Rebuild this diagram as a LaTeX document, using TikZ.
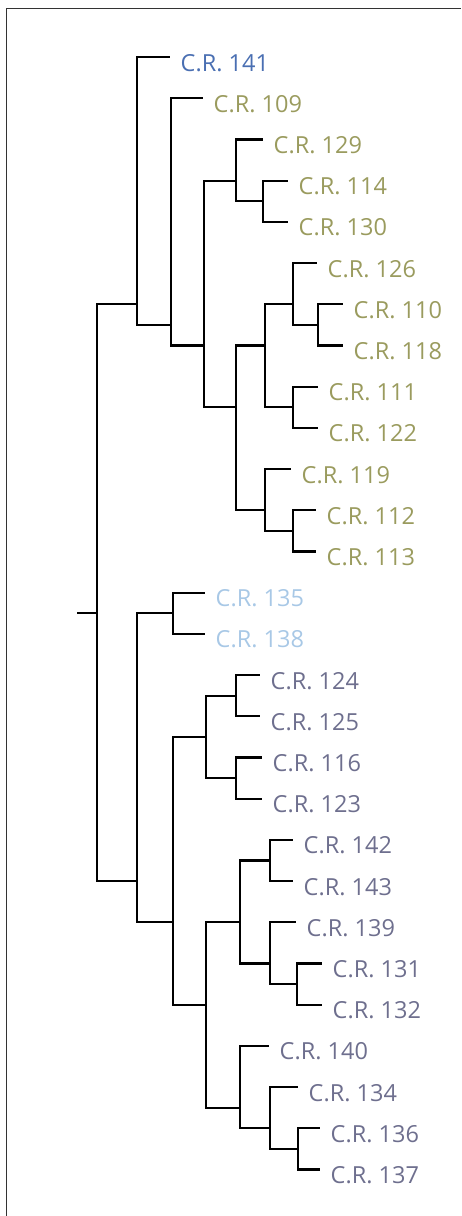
\documentclass[tikz,border=0pt]{standalone}
\usepackage{fontspec}
\setmainfont{Open Sans}
\definecolor{cblue}{HTML}{4A6FB2}
\definecolor{colive}{HTML}{9A9B5E}
\definecolor{clight}{HTML}{A8C8E6}
\definecolor{cslate}{HTML}{6E6F8E}
\begin{document}
\begin{tikzpicture}[x=1pt,y=-1pt,
  branch/.style={line width=2.2pt,black},
  frame/.style={line width=1.8pt,draw=black!80},
  leaf/.style={anchor=base west,inner sep=0pt,font=\fontsize{23.5}{26}\selectfont}]
\useasboundingbox (0,0) rectangle (461,1216);
\draw[frame] (6.5,1216) -- (6.5,8.5) -- (461,8.5);

% leaf row positions: y = 57 + 41.2 i
\def\ly#1{57+41.2*#1}

% leaf tips and their labels
\foreach \nm/\i/\x/\c in {141/0/170/cblue,109/1/203/colive,129/2/263/colive,114/3/288/colive,
  130/4/288/colive,126/5/317/colive,110/6/343/colive,118/7/343/colive,111/8/318/colive,
  122/9/318/colive,119/10/291/colive,112/11/316/colive,113/12/316/colive,135/13/205/clight,
  138/14/205/clight,124/15/260/cslate,125/16/260/cslate,116/17/262/cslate,123/18/262/cslate,
  142/19/293/cslate,143/20/293/cslate,139/21/296/cslate,131/22/322/cslate,132/23/322/cslate,
  140/24/269/cslate,134/25/298/cslate,136/26/320/cslate,137/27/320/cslate}
  {\coordinate (t\nm) at (\x,{\ly{\i}});
   \node[leaf,text=\c] (l\nm) at ([xshift=10.5pt,yshift=-14pt]t\nm) {C.R. \nm};}

% internal nodes (y = mean of leaf rows below them)
\coordinate (stub) at (77,{\ly{13.5}});
\coordinate (root) at (97,{\ly{13.5}});
\coordinate (nA) at (137,{\ly{6}});
\coordinate (nB) at (171,{\ly{6.5}});
\coordinate (nC) at (204,{\ly{7}});
\coordinate (nD) at (236,{\ly{3}});
\coordinate (nF) at (263,{\ly{3.5}});
\coordinate (nE) at (236,{\ly{8.5}});
\coordinate (nG) at (265,{\ly{7}});
\coordinate (nI) at (293,{\ly{6}});
\coordinate (nK) at (318,{\ly{6.5}});
\coordinate (nJ) at (293,{\ly{8.5}});
\coordinate (nH) at (265,{\ly{11}});
\coordinate (nL) at (293,{\ly{11.5}});
\coordinate (nP) at (137,{\ly{20}});
\coordinate (nQ) at (173,{\ly{13.5}});
\coordinate (nR) at (173,{\ly{21}});
\coordinate (nS) at (206,{\ly{16.5}});
\coordinate (nU) at (236,{\ly{15.5}});
\coordinate (nV) at (236,{\ly{17.5}});
\coordinate (nT) at (206,{\ly{23}});
\coordinate (nW) at (240,{\ly{21}});
\coordinate (nY) at (270,{\ly{19.5}});
\coordinate (nZ) at (270,{\ly{22}});
\coordinate (nAA) at (297,{\ly{22.5}});
\coordinate (nX) at (240,{\ly{25.5}});
\coordinate (nAB) at (270,{\ly{26}});
\coordinate (nAC) at (298,{\ly{26.5}});

% branches
\draw[branch] (stub) -- (root);
\foreach \p/\ch in {root/nA,root/nP,
  nA/t141,nA/nB,nB/t109,nB/nC,nC/nD,nC/nE,
  nD/t129,nD/nF,nF/t114,nF/t130,
  nE/nG,nE/nH,nG/nI,nG/nJ,nI/t126,nI/nK,nK/t110,nK/t118,
  nJ/t111,nJ/t122,nH/t119,nH/nL,nL/t112,nL/t113,
  nP/nQ,nP/nR,nQ/t135,nQ/t138,nR/nS,nR/nT,
  nS/nU,nS/nV,nU/t124,nU/t125,nV/t116,nV/t123,
  nT/nW,nT/nX,nW/nY,nW/nZ,nY/t142,nY/t143,
  nZ/t139,nZ/nAA,nAA/t131,nAA/t132,
  nX/t140,nX/nAB,nAB/t134,nAB/nAC,nAC/t136,nAC/t137}
  \draw[branch] (\p) |- (\ch);
\end{tikzpicture}
\end{document}
